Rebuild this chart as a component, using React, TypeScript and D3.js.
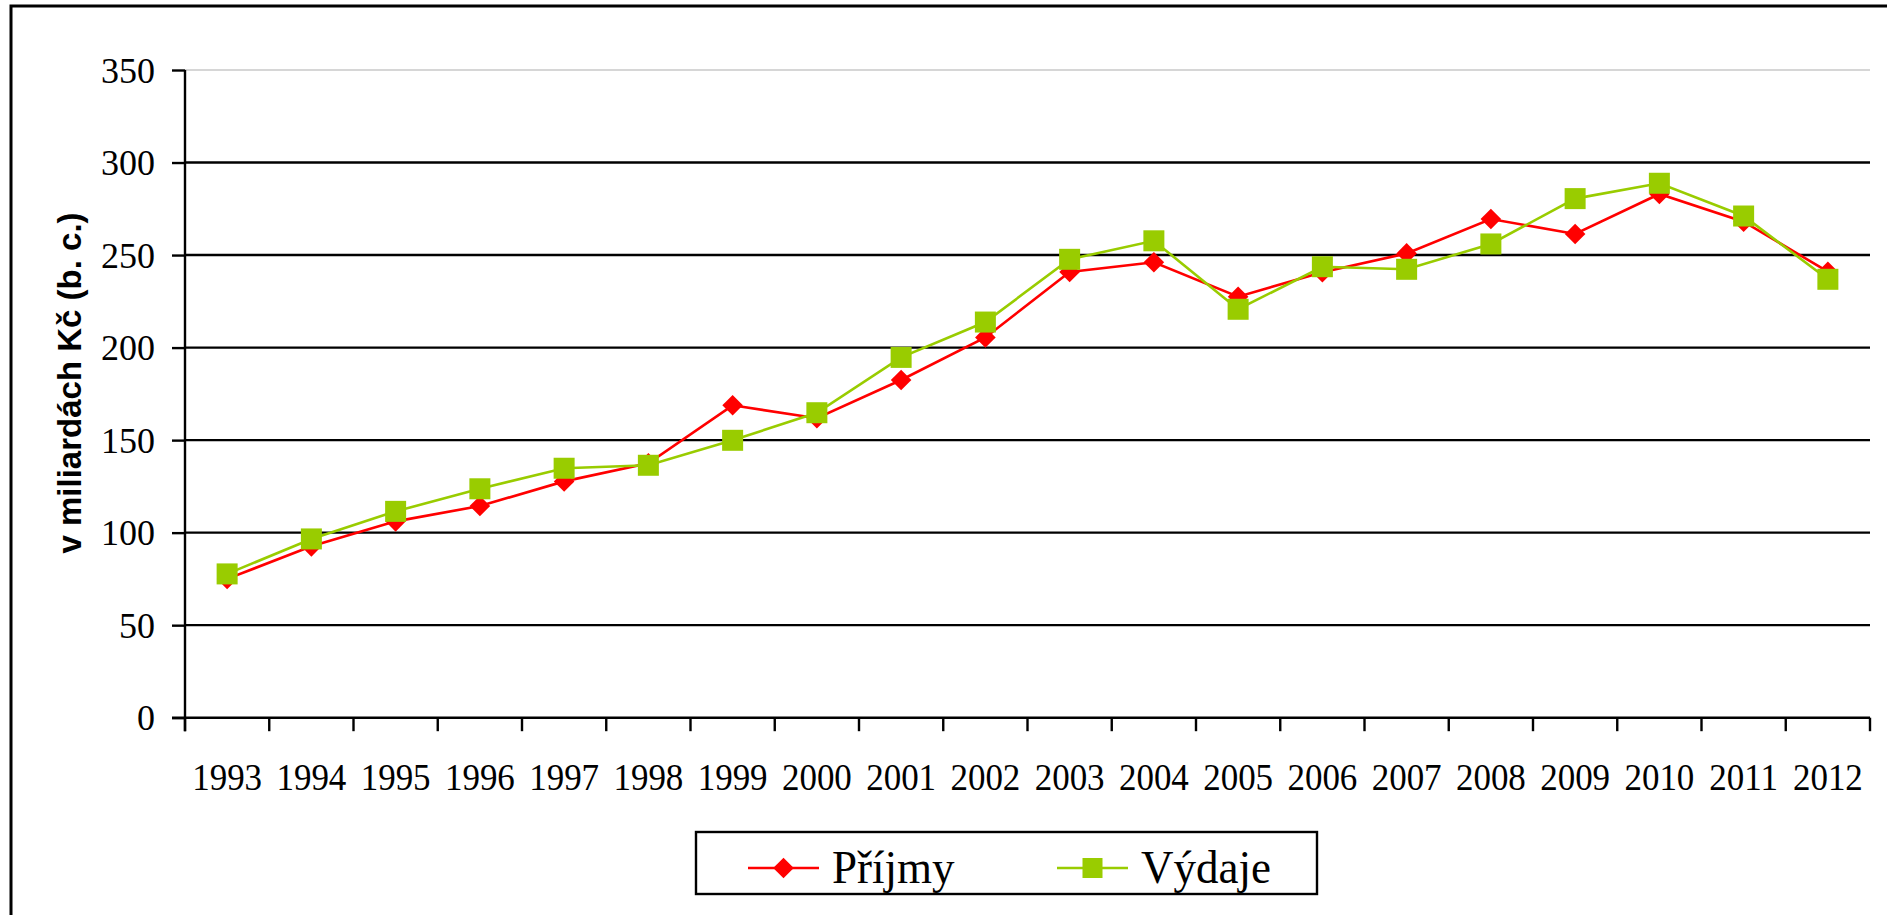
import React, { useRef, useEffect } from "react";
import * as d3 from "d3";

// roky na ose x
const years = ["1993", "1994", "1995", "1996", "1997", "1998", "1999", "2000", "2001", "2002",
    "2003", "2004", "2005", "2006", "2007", "2008", "2009", "2010", "2011", "2012"];

// hodnoty v miliardach Kc, odhad z grafu
const prijmy = [75.0, 92.6, 106.1, 114.4, 127.7, 137.5, 168.8, 161.8, 182.5, 205.5,
    240.8, 246.1, 227.5, 240.7, 250.9, 269.5, 261.4, 283.0, 268.0, 241.0];
const vydaje = [77.7, 96.6, 111.5, 123.7, 134.8, 136.4, 149.9, 164.8, 194.7, 213.8,
    247.7, 257.7, 220.7, 243.7, 242.3, 256.0, 280.5, 288.8, 271.1, 236.9];

const yTicks = [0, 50, 100, 150, 200, 250, 300, 350];
const seriesNames = ["Příjmy", "Výdaje"];

const App = () => {
    const ref = useRef(null);

    useEffect(() => {
        const width = 1887;
        const height = 915;
        const plot = { left: 185, right: 1870, top: 70, bottom: 717.7 };

        const svg = d3.select(ref.current);
        svg.selectAll("*").remove();
        svg.attr("width", width).attr("height", height);

        svg.append("rect")
            .attr("width", width).attr("height", height)
            .attr("fill", "white");

        // vnejsi ramecek (pravy a dolni okraj mimo obrazek)
        svg.append("rect")
            .attr("x", 11).attr("y", 6)
            .attr("width", 2000).attr("height", 1000)
            .attr("fill", "none")
            .attr("stroke", "black")
            .attr("stroke-width", 3);

        const x = d3.scaleBand()
            .domain(years)
            .range([plot.left, plot.right])
            .paddingInner(0).paddingOuter(0);

        const y = d3.scaleLinear()
            .domain([0, 350])
            .range([plot.bottom, plot.top]);

        const cx = (d) => x(d) + x.bandwidth() / 2;

        // mrizka
        svg.append("g")
            .selectAll("line")
            .data(yTicks.filter((t) => t > 0))
            .join("line")
            .attr("x1", plot.left).attr("x2", plot.right)
            .attr("y1", (d) => y(d)).attr("y2", (d) => y(d))
            .attr("stroke", (d) => (d === 350 ? "#c8c8c8" : "black"))
            .attr("stroke-width", (d) => (d === 350 ? 1.5 : 2.4));

        // osa y
        const yAxis = svg.append("g")
            .attr("transform", `translate(${plot.left},0)`)
            .call(d3.axisLeft(y).tickValues(yTicks).tickSize(13).tickSizeOuter(0).tickPadding(17));
        yAxis.select(".domain").attr("stroke", "black").attr("stroke-width", 2.4)
            .attr("d", `M0,${plot.top}V${plot.bottom + 13.5}`);
        yAxis.selectAll(".tick line").attr("stroke", "black").attr("stroke-width", 2.4);
        yAxis.selectAll(".tick text")
            .attr("font-family", "'Liberation Serif', 'Times New Roman', serif")
            .attr("font-size", 36)
            .attr("fill", "black")
            .attr("dy", "0.34em");

        // osa x
        const boundaries = years.map((d) => x(d)).concat([plot.right]);
        const xAxis = svg.append("g");
        xAxis.append("line")
            .attr("x1", plot.left - 13).attr("x2", plot.right)
            .attr("y1", plot.bottom).attr("y2", plot.bottom)
            .attr("stroke", "black").attr("stroke-width", 2.4);
        xAxis.selectAll("line.tick")
            .data(boundaries)
            .join("line")
            .attr("class", "tick")
            .attr("x1", (d) => d).attr("x2", (d) => d)
            .attr("y1", plot.bottom).attr("y2", plot.bottom + 13.5)
            .attr("stroke", "black").attr("stroke-width", 2.4);
        xAxis.selectAll("text")
            .data(years)
            .join("text")
            .attr("transform", (d) => `translate(${cx(d)},790) scale(1,1.08)`)
            .attr("text-anchor", "middle")
            .attr("font-family", "'Liberation Serif', 'Times New Roman', serif")
            .attr("font-size", 35)
            .text((d) => d);

        // popisek osy y
        svg.append("text")
            .attr("transform", "translate(81,383) rotate(-90)")
            .attr("text-anchor", "middle")
            .attr("font-family", "'Liberation Sans', Arial, sans-serif")
            .attr("font-weight", "bold")
            .attr("font-size", 33)
            .text("v miliardách Kč (b. c.)");

        const line = d3.line()
            .x((d, i) => cx(years[i]))
            .y((d) => y(d));

        const diamond = d3.symbol().type(d3.symbolDiamond2).size(270);

        // Prijmy
        svg.append("path")
            .attr("d", line(prijmy))
            .attr("fill", "none")
            .attr("stroke", "#FF0000")
            .attr("stroke-width", 2.6);
        svg.append("g")
            .selectAll("path")
            .data(prijmy)
            .join("path")
            .attr("d", diamond)
            .attr("transform", (d, i) => `translate(${cx(years[i])},${y(d)})`)
            .attr("fill", "#FF0000");

        // Vydaje
        svg.append("path")
            .attr("d", line(vydaje))
            .attr("fill", "none")
            .attr("stroke", "#99CC00")
            .attr("stroke-width", 2.6);
        svg.append("g")
            .selectAll("rect")
            .data(vydaje)
            .join("rect")
            .attr("x", (d, i) => cx(years[i]) - 10.5)
            .attr("y", (d) => y(d) - 10.5)
            .attr("width", 21).attr("height", 21)
            .attr("fill", "#99CC00");

        // legenda
        const legend = svg.append("g");
        legend.append("rect")
            .attr("x", 696).attr("y", 832)
            .attr("width", 621).attr("height", 62)
            .attr("fill", "white")
            .attr("stroke", "black")
            .attr("stroke-width", 2.4);

        const entries = [
            { name: seriesNames[0], color: "#FF0000", x0: 748 },
            { name: seriesNames[1], color: "#99CC00", x0: 1057 },
        ];
        entries.forEach((e, k) => {
            legend.append("line")
                .attr("x1", e.x0).attr("x2", e.x0 + 71)
                .attr("y1", 868).attr("y2", 868)
                .attr("stroke", e.color).attr("stroke-width", 2.6);
            if (k === 0) {
                legend.append("path")
                    .attr("d", diamond)
                    .attr("transform", `translate(${e.x0 + 35.5},868)`)
                    .attr("fill", e.color);
            } else {
                legend.append("rect")
                    .attr("x", e.x0 + 35.5 - 10).attr("y", 858)
                    .attr("width", 20).attr("height", 20)
                    .attr("fill", e.color);
            }
            legend.append("text")
                .attr("transform", `translate(${e.x0 + 84},883) scale(1,1.05)`)
                .attr("font-family", "'Liberation Serif', 'Times New Roman', serif")
                .attr("font-size", 45)
                .text(e.name);
        });
    }, []);

    return (
        <svg ref={ref} style={{ position: "absolute", left: 0, top: 0, display: "block" }} />
    );
};

export default App;
